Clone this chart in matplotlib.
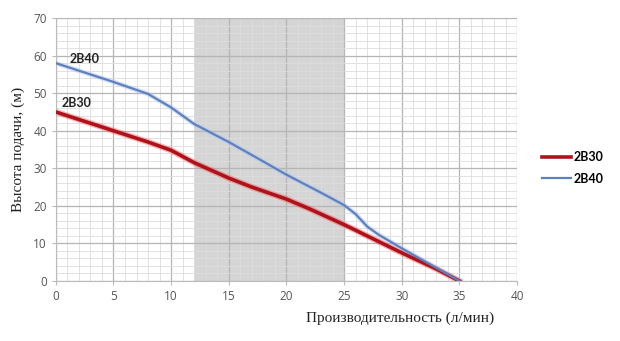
import matplotlib
matplotlib.use("Agg")
import matplotlib.pyplot as plt
from matplotlib.ticker import MultipleLocator

# flow (л/мин) vs head (м)
flow_2b30 = [0, 3, 5, 8, 10, 12, 15, 17, 20, 22, 25, 28, 30, 33, 35]
head_2b30 = [45, 42, 40, 37, 34.8, 31.5, 27.4, 25, 21.8, 19.2, 15, 10.5, 7.5, 3.2, 0]

flow_2b40 = [0, 3, 5, 8, 10, 12, 15, 18, 20, 23, 25, 26, 27, 28, 30, 33, 35]
head_2b40 = [58, 55, 53, 49.8, 46.2, 41.8, 37, 31.8, 28.3, 23.5, 20.2, 17.8, 14.5, 12.3, 8.7, 3.5, 0]

band = (12, 25)

RED = "#B0121B"
BLUE = "#5E80BF"
GRAY_TXT = "#555555"

fig = plt.figure(figsize=(6.2, 3.41), dpi=100)
ax = fig.add_axes([0.090, 0.176, 0.744, 0.771])

ax.set_xlim(0, 40)
ax.set_ylim(0, 70)
ax.xaxis.set_major_locator(MultipleLocator(5))
ax.xaxis.set_minor_locator(MultipleLocator(1))
ax.yaxis.set_major_locator(MultipleLocator(10))
ax.yaxis.set_minor_locator(MultipleLocator(2))
ax.grid(which="major", color="#B5B5B5", linewidth=0.9)
ax.grid(which="minor", color="#DDDDDD", linewidth=0.6)
ax.set_axisbelow(True)

ax.axvspan(*band, color="#C8C8C8", alpha=0.75, zorder=0.5, lw=0)

# soft glow under the lines
ax.plot(flow_2b30, head_2b30, color="#F06060", lw=4.5, alpha=0.45, zorder=2)
ax.plot(flow_2b30, head_2b30, color=RED, lw=2.6, label="2B30", zorder=3)
ax.plot(flow_2b40, head_2b40, color="#AFC6EE", lw=3.5, alpha=0.5, zorder=2)
ax.plot(flow_2b40, head_2b40, color=BLUE, lw=1.6, label="2B40", zorder=3)

ax.text(1.2, 59.0, "2B40", fontsize=9, fontweight="bold", color="#222222",
        family="Lato", va="center")
ax.text(0.5, 47.4, "2B30", fontsize=9, fontweight="bold", color="#222222",
        family="Lato", va="center")

for s in ["top", "right"]:
    ax.spines[s].set_visible(False)
for s in ["left", "bottom"]:
    ax.spines[s].set_color("#BBBBBB")
ax.tick_params(which="major", length=3, color="#BBBBBB", labelsize=8.5,
               labelcolor=GRAY_TXT)
ax.tick_params(which="minor", length=0)
for lbl in ax.get_xticklabels() + ax.get_yticklabels():
    lbl.set_family("Open Sans")

ax.set_ylabel("Высота подачи, (м)", family="Liberation Serif", fontsize=11,
              color="#222222", labelpad=6)
fig.text(0.645, 0.068, "Производительность (л/мин)", family="Liberation Serif",
         fontsize=11, color="#222222", ha="center", va="center")

leg = ax.legend(loc="center left", bbox_to_anchor=(1.03, 0.43), frameon=False,
                handlelength=2.3, handletextpad=0.2, labelspacing=0.75,
                prop={"family": "Lato", "weight": "bold", "size": 9})

fig.savefig("out.png", dpi=100)
